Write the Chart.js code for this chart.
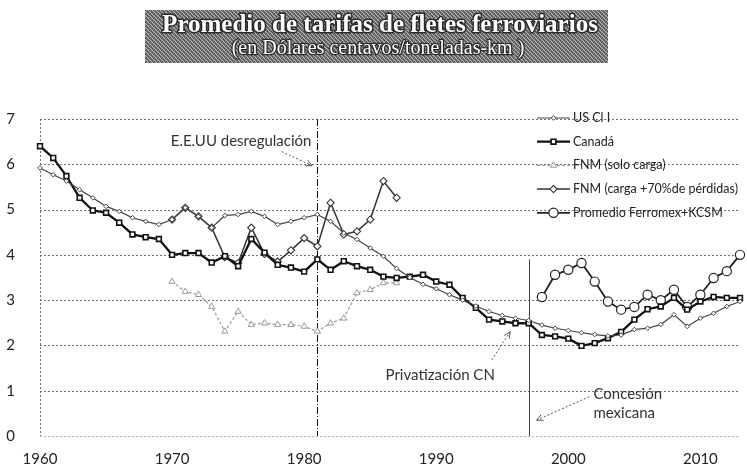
<!DOCTYPE html>
<html>
<head>
<meta charset="utf-8">
<script src="https://cdn.jsdelivr.net/npm/chart.js@4.4.1/dist/chart.umd.min.js"></script>
<style>
  html, body { margin: 0; padding: 0; background: #fff; }
  #wrap { width: 747px; height: 465px; }
</style>
</head>
<body>
<div id="wrap"><canvas id="chart" width="747" height="465"></canvas></div>
<script>
// years on the x axis
const years = [1960, 1961, 1962, 1963, 1964, 1965, 1966, 1967, 1968, 1969,
               1970, 1971, 1972, 1973, 1974, 1975, 1976, 1977, 1978, 1979,
               1980, 1981, 1982, 1983, 1984, 1985, 1986, 1987, 1988, 1989,
               1990, 1991, 1992, 1993, 1994, 1995, 1996, 1997, 1998, 1999,
               2000, 2001, 2002, 2003, 2004, 2005, 2006, 2007, 2008, 2009,
               2010, 2011, 2012, 2013];

// cents per ton-km
const usClassI = [5.92, 5.77, 5.63, 5.44, 5.26, 5.07, 4.96, 4.82, 4.74, 4.67,
                  4.78, 5.04, 4.85, 4.60, 4.87, 4.89, 4.96, 4.85, 4.67, 4.74,
                  4.82, 4.89, 4.74, 4.48, 4.34, 4.15, 3.97, 3.70, 3.50, 3.35,
                  3.25, 3.12, 3.00, 2.87, 2.75, 2.66, 2.60, 2.55, 2.45, 2.38,
                  2.33, 2.28, 2.24, 2.21, 2.23, 2.35, 2.38, 2.46, 2.68, 2.42,
                  2.60, 2.71, 2.86, 2.97];
const canada = [6.40, 6.14, 5.74, 5.26, 4.98, 4.93, 4.71, 4.45, 4.39, 4.35,
                4.00, 4.04, 4.04, 3.83, 3.97, 3.75, 4.35, 4.05, 3.78, 3.72,
                3.63, 3.90, 3.67, 3.86, 3.75, 3.67, 3.52, 3.49, 3.52, 3.56,
                3.41, 3.34, 3.05, 2.83, 2.57, 2.53, 2.49, 2.49, 2.23, 2.20,
                2.15, 1.99, 2.05, 2.16, 2.30, 2.57, 2.80, 2.86, 3.05, 2.79,
                2.97, 3.07, 3.05, 3.05];
const fnmSoloStart = 1970;
const fnmSolo = [3.41, 3.19, 3.12, 2.86, 2.31, 2.75, 2.46, 2.49, 2.46, 2.46,
                 2.42, 2.31, 2.49, 2.60, 3.16, 3.23, 3.38, 3.38];
const fnmPerdidasStart = 1970;
const fnmPerdidas = [4.78, 5.04, 4.85, 4.60, 3.95, 3.82, 4.60, 4.02, 3.85, 4.10,
                     4.37, 4.19, 5.15, 4.45, 4.52, 4.78, 5.63, 5.26];
const ferromexStart = 1998;
const ferromex = [3.07, 3.56, 3.67, 3.82, 3.41, 2.97, 2.79, 2.85, 3.12, 3.00,
                  3.23, 2.85, 3.12, 3.49, 3.64, 4.00];

const seriesNames = ["US Cl I", "Canadá", "FNM (solo carga)",
                     "FNM (carga +70%de pérdidas)", "Promedio Ferromex+KCSM"];
const yMin = 0, yMax = 7, yStep = 1;
const gridValues = [0, 1, 2, 3, 4, 5, 6, 7];

const titleText = "Promedio de tarifas de fletes ferroviarios";
const subtitleText = "(en Dólares centavos/toneladas-km )";

// put a partial series on the full year list
function align(values, start) {
    return years.map(function (y) {
        const i = y - start;
        return (i >= 0 && i < values.length) ? values[i] : null;
    });
}

function arrow(ctx, x1, y1, x2, y2) {
    ctx.save();
    ctx.strokeStyle = "#555";
    ctx.lineWidth = 1;
    ctx.setLineDash([2, 2]);
    ctx.beginPath();
    ctx.moveTo(x1, y1);
    ctx.lineTo(x2, y2);
    ctx.stroke();
    ctx.setLineDash([]);
    const a = Math.atan2(y2 - y1, x2 - x1);
    const h = 7;
    ctx.beginPath();
    ctx.moveTo(x2 - h * Math.cos(a - 0.45), y2 - h * Math.sin(a - 0.45));
    ctx.lineTo(x2, y2);
    ctx.lineTo(x2 - h * Math.cos(a + 0.45), y2 - h * Math.sin(a + 0.45));
    ctx.stroke();
    ctx.restore();
}

// grey dithered banner behind the title
const bannerPlugin = {
    id: "banner",
    beforeDraw(chart) {
        const ctx = chart.ctx;
        const pc = document.createElement("canvas");
        pc.width = 4; pc.height = 4;
        const p = pc.getContext("2d");
        p.fillStyle = "#7c7c7c"; p.fillRect(0, 0, 4, 4);
        p.fillStyle = "#4a4a4a";
        p.fillRect(0, 0, 1, 1); p.fillRect(2, 1, 1, 1); p.fillRect(1, 2, 1, 1); p.fillRect(3, 3, 1, 1);
        p.fillStyle = "#b4b4b4";
        p.fillRect(2, 0, 1, 1); p.fillRect(0, 2, 1, 1); p.fillRect(3, 1, 1, 1); p.fillRect(1, 3, 1, 1);
        ctx.save();
        ctx.fillStyle = ctx.createPattern(pc, "repeat");
        ctx.fillRect(145, 10, 463, 53);
        ctx.textAlign = "center";
        ctx.textBaseline = "middle";
        ctx.lineJoin = "round";
        ctx.font = 'bold 25px "Liberation Serif"';
        ctx.lineWidth = 3;
        ctx.strokeStyle = "#2a2a2a";
        ctx.strokeText(titleText, 380, 26);
        ctx.fillStyle = "#fff";
        ctx.fillText(titleText, 380, 26);
        ctx.font = '20px "Liberation Serif"';
        ctx.lineWidth = 2.5;
        ctx.strokeText(subtitleText, 378, 49);
        ctx.fillText(subtitleText, 378, 49);
        ctx.restore();
    }
};

// dotted grid, left axis, the two event markers and their notes
const eventsPlugin = {
    id: "events",
    beforeDatasetsDraw(chart) {
        const ctx = chart.ctx;
        const area = chart.chartArea;
        const x = chart.scales.x, y = chart.scales.y;
        const px = v => Math.round(x.getPixelForValue(v - years[0])) + 0.5;
        ctx.save();
        ctx.lineWidth = 1;
        ctx.setLineDash([2, 2]);
        gridValues.forEach(function (v) {
            const yy = Math.round(y.getPixelForValue(v)) + 0.5;
            ctx.strokeStyle = v === 0 ? "#b0b0b0" : "#707070";
            ctx.beginPath();
            ctx.moveTo(area.left, yy);
            ctx.lineTo(area.right, yy);
            ctx.stroke();
        });
        ctx.strokeStyle = "#707070";
        ctx.beginPath();
        ctx.moveTo(Math.round(area.left) + 0.5, area.top);
        ctx.lineTo(Math.round(area.left) + 0.5, area.bottom);
        ctx.stroke();

        ctx.strokeStyle = "#111";
        ctx.setLineDash([7, 2, 1, 2]);
        ctx.beginPath();
        ctx.moveTo(px(1981), y.getPixelForValue(7));
        ctx.lineTo(px(1981), y.getPixelForValue(0));
        ctx.stroke();
        ctx.setLineDash([]);
        ctx.strokeStyle = "#444";
        ctx.beginPath();
        ctx.moveTo(px(1997), y.getPixelForValue(3.9));
        ctx.lineTo(px(1997), y.getPixelForValue(0));
        ctx.stroke();
        ctx.restore();
    },
    afterDatasetsDraw(chart) {
        const ctx = chart.ctx;
        const x = chart.scales.x, y = chart.scales.y;
        const px = v => x.getPixelForValue(v - years[0]);
        const py = v => y.getPixelForValue(v);
        ctx.save();
        ctx.fillStyle = "#333";
        ctx.font = "15px Lato";
        ctx.textBaseline = "middle";
        ctx.textAlign = "left";
        ctx.fillText("E.E.UU desregulación", px(1969.9), py(6.5));
        arrow(ctx, px(1978.3), py(6.28), px(1980.6), py(5.97));
        ctx.textAlign = "center";
        ctx.fillText("Privatización CN", px(1990.3), py(1.35));
        arrow(ctx, px(1994.2), py(1.68), px(1995.6), py(2.3));
        ctx.textAlign = "left";
        ctx.fillText("Concesión", px(2001.9), py(0.93));
        ctx.fillText("mexicana", px(2001.9), py(0.51));
        arrow(ctx, px(2001.6), py(0.87), px(1997.6), py(0.35));
        ctx.restore();
    }
};

// legend drawn as a column inside the plot, like the original
const sideLegendPlugin = {
    id: "sideLegend",
    afterDraw(chart) {
        const ctx = chart.ctx;
        const x0 = 537, x1 = 570, top = 118, gap = 23.7;
        chart.data.datasets.forEach(function (ds, i) {
            const yy = top + i * gap;
            ctx.save();
            ctx.strokeStyle = ds.borderColor;
            ctx.lineWidth = ds.borderWidth;
            ctx.setLineDash(ds.borderDash || []);
            ctx.beginPath();
            ctx.moveTo(x0, yy);
            ctx.lineTo(x1, yy);
            ctx.stroke();
            ctx.setLineDash([]);
            ctx.fillStyle = ds.pointBackgroundColor;
            ctx.strokeStyle = ds.pointBorderColor;
            ctx.lineWidth = ds.pointBorderWidth;
            Chart.helpers.drawPoint(ctx, {
                pointStyle: ds.pointStyle,
                radius: ds.pointRadius,
                rotation: 0,
                borderWidth: ds.pointBorderWidth
            }, (x0 + x1) / 2, yy);
            ctx.fillStyle = "#222";
            ctx.font = "12.5px Lato";
            ctx.textAlign = "left";
            ctx.textBaseline = "middle";
            ctx.fillText(ds.label, x1 + 3, yy);
            ctx.restore();
        });
    }
};

const datasets = [
    {
        label: seriesNames[0],
        data: usClassI,
        borderColor: "#444",
        borderWidth: 1.2,
        pointStyle: "rectRot",
        pointRadius: 2.3,
        pointBackgroundColor: "#fff",
        pointBorderColor: "#444",
        pointBorderWidth: 1
    },
    {
        label: seriesNames[1],
        data: canada,
        borderColor: "#111",
        borderWidth: 2.3,
        pointStyle: "rect",
        pointRadius: 3.4,
        pointBackgroundColor: "#fff",
        pointBorderColor: "#111",
        pointBorderWidth: 1.6
    },
    {
        label: seriesNames[2],
        data: align(fnmSolo, fnmSoloStart),
        borderColor: "#9a9a9a",
        borderWidth: 1.2,
        borderDash: [3, 2],
        pointStyle: "triangle",
        pointRadius: 3.6,
        pointBackgroundColor: "#fff",
        pointBorderColor: "#999",
        pointBorderWidth: 1
    },
    {
        label: seriesNames[3],
        data: align(fnmPerdidas, fnmPerdidasStart),
        borderColor: "#333",
        borderWidth: 1.5,
        pointStyle: "rectRot",
        pointRadius: 3.6,
        pointBackgroundColor: "#fff",
        pointBorderColor: "#333",
        pointBorderWidth: 1.1
    },
    {
        label: seriesNames[4],
        data: align(ferromex, ferromexStart),
        borderColor: "#222",
        borderWidth: 1.8,
        pointStyle: "circle",
        pointRadius: 4.6,
        pointBackgroundColor: "#fff",
        pointBorderColor: "#222",
        pointBorderWidth: 1.2
    }
];

new Chart(document.getElementById("chart"), {
    type: "line",
    data: { labels: years, datasets: datasets },
    options: {
        responsive: false,
        animation: false,
        events: [],
        spanGaps: false,
        layout: { padding: { top: 119, right: 7, left: 0, bottom: 0 } },
        elements: { line: { tension: 0 } },
        plugins: {
            legend: { display: false },
            tooltip: { enabled: false }
        },
        scales: {
            x: {
                type: "category",
                offset: false,
                afterFit: s => { s.height = 29; },
                grid: { display: false },
                border: { display: false },
                ticks: {
                    autoSkip: false,
                    maxRotation: 0,
                    padding: 6,
                    color: "#222",
                    font: { family: "Lato", size: 15 },
                    callback: (v, i) => years[i] % 10 === 0 ? String(years[i]) : ""
                }
            },
            y: {
                min: yMin,
                max: yMax,
                afterFit: s => { s.width = 40; },
                grid: { display: false },
                border: { display: false },
                ticks: {
                    stepSize: yStep,
                    padding: 17,
                    color: "#222",
                    font: { family: "Lato", size: 15 }
                }
            }
        }
    },
    plugins: [bannerPlugin, eventsPlugin, sideLegendPlugin]
});
</script>
</body>
</html>
